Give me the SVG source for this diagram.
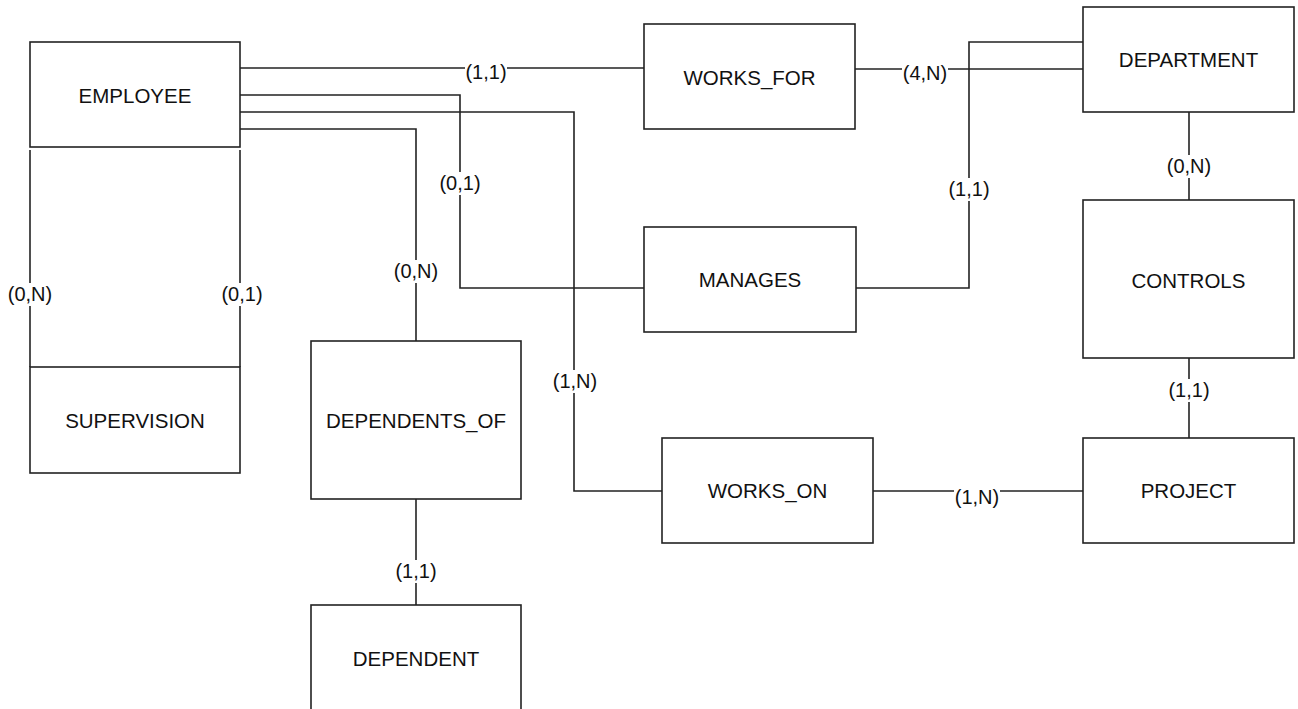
<svg xmlns="http://www.w3.org/2000/svg" width="1298" height="709" viewBox="0 0 1298 709">
<style>
.box{fill:#fff;stroke:#222;stroke-width:1.6}
.ln{fill:none;stroke:#222;stroke-width:1.6}
.nm{font-family:"Liberation Sans",Arial,sans-serif;font-size:20.5px;fill:#111;text-anchor:middle}
.lb{font-family:"Liberation Sans",Arial,sans-serif;font-size:20px;fill:#111;text-anchor:middle}
.bg{fill:#fff}
</style>
<rect width="1298" height="709" fill="#fff"/>
<g id="connectors">
<path class="ln" d="M240,68 H644"/>
<path class="ln" d="M855,69 H1083"/>
<path class="ln" d="M240,95 H460 V288 H644"/>
<path class="ln" d="M855,288 H969 V42 H1083"/>
<path class="ln" d="M240,112 H574 V491 H662"/>
<path class="ln" d="M873,491 H1083"/>
<path class="ln" d="M240,129 H416 V341"/>
<path class="ln" d="M416,499 V605"/>
<path class="ln" d="M1189,112 V200"/>
<path class="ln" d="M1189,358 V438"/>
<path class="ln" d="M30,150 V367"/>
<path class="ln" d="M240,150 V367"/>
<g id="labels">
<rect class="bg" x="465" y="62" width="42" height="14"/><text class="lb" x="486" y="79">(1,1)</text>
<rect class="bg" x="902" y="63" width="46" height="14"/><text class="lb" x="925" y="80">(4,N)</text>
<rect class="bg" x="440" y="172" width="40" height="23"/><text class="lb" x="460" y="190">(0,1)</text>
<rect class="bg" x="394" y="260" width="44" height="23"/><text class="lb" x="416" y="278">(0,N)</text>
<rect class="bg" x="949" y="178" width="40" height="23"/><text class="lb" x="969" y="196">(1,1)</text>
<rect class="bg" x="1167" y="155" width="44" height="23"/><text class="lb" x="1189" y="173">(0,N)</text>
<rect class="bg" x="8" y="283" width="44" height="23"/><text class="lb" x="30" y="301">(0,N)</text>
<rect class="bg" x="221" y="283" width="40" height="23"/><text class="lb" x="242" y="301">(0,1)</text>
<rect class="bg" x="553" y="370" width="44" height="23"/><text class="lb" x="575" y="388">(1,N)</text>
<rect class="bg" x="396" y="560" width="40" height="23"/><text class="lb" x="416" y="578">(1,1)</text>
<rect class="bg" x="1169" y="379" width="40" height="23"/><text class="lb" x="1189" y="397">(1,1)</text>
<rect class="bg" x="954" y="486" width="46" height="14"/><text class="lb" x="977" y="504">(1,N)</text>
</g>
</g>
<g id="employee"><rect class="box" x="30" y="42" width="210" height="105"/><text class="nm" x="135" y="103">EMPLOYEE</text></g>
<g id="supervision"><rect class="box" x="30" y="367" width="210" height="106"/><text class="nm" x="135" y="428">SUPERVISION</text></g>
<g id="works_for"><rect class="box" x="644" y="24" width="211" height="105"/><text class="nm" x="749.5" y="85">WORKS_FOR</text></g>
<g id="department"><rect class="box" x="1083" y="7" width="211" height="105"/><text class="nm" x="1188.5" y="67">DEPARTMENT</text></g>
<g id="manages"><rect class="box" x="644" y="227" width="212" height="105"/><text class="nm" x="750" y="287">MANAGES</text></g>
<g id="controls"><rect class="box" x="1083" y="200" width="211" height="158"/><text class="nm" x="1188.5" y="288">CONTROLS</text></g>
<g id="dependents_of"><rect class="box" x="311" y="341" width="210" height="158"/><text class="nm" x="416" y="428">DEPENDENTS_OF</text></g>
<g id="works_on"><rect class="box" x="662" y="438" width="211" height="105"/><text class="nm" x="767.5" y="498">WORKS_ON</text></g>
<g id="project"><rect class="box" x="1083" y="438" width="211" height="105"/><text class="nm" x="1188.5" y="498">PROJECT</text></g>
<g id="dependent"><rect class="box" x="311" y="605" width="210" height="110"/><text class="nm" x="416" y="666">DEPENDENT</text></g>
</svg>
